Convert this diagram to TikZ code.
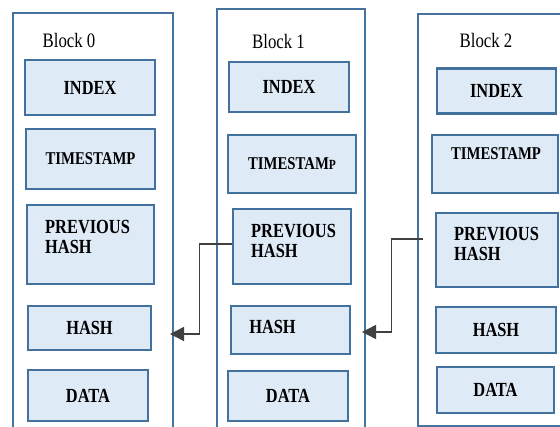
\documentclass[tikz,border=0pt]{standalone}
\usepackage{fontspec}
\setmainfont{Liberation Serif}[FakeStretch=0.82]
\usetikzlibrary{arrows.meta}
\definecolor{frameblue}{RGB}{70,114,160}
\definecolor{fieldblue}{RGB}{65,113,156}
\definecolor{fieldfill}{RGB}{222,234,246}

\begin{document}
\begin{tikzpicture}[x=1pt, y=-1pt,
        blk/.style 2 args={draw=frameblue, line width=2.4pt, fill=white, minimum width=#1pt, minimum height=#2pt, inner sep=0},
        fld/.style 2 args={draw=fieldblue, line width=2.7pt, fill=fieldfill, minimum width=#1pt, minimum height=#2pt, inner sep=0,
            font=\bfseries\fontsize{20}{21}\selectfont},
        txt/.style={font=\bfseries\fontsize{20}{20}\selectfont, inner sep=0, align=left},
        title/.style={font=\fontsize{20.5}{20}\selectfont, inner sep=0},
        link/.style={draw=black!75, line width=1.4pt, -{Triangle[length=14pt, width=14pt]}}]
        \useasboundingbox (0, 0) rectangle (560, 427);
        \clip (0, 0) rectangle (560, 427);
        \node[blk={160}{437}] (blk0) at (93, 231.5) {};
        \node[blk={148}{441}] (blk1) at (291, 229.5) {};
        \node[blk={162}{412}] (blk2) at (499, 220) {};
        \node[title] (b0) at (69, 40) {Block 0};
        \node[title] (b1) at (278.5, 41) {Block 1};
        \node[title] (b2) at (486, 40) {Block 2};

        \node[fld={130}{55}] (idx0) at (90, 87.5) {INDEX};
        \node[fld={129}{60}, font=\bfseries\fontsize{18}{18}\selectfont] (ts0) at (90.5, 159) {TIMESTAMP};
        \node[fld={127}{79}] (ph0) at (90.5, 244.5) {};
        \node[txt, anchor=north west] (ph0t) at (45, 220) {PREVIOUS\\HASH};
        \node[fld={123}{44}] (hs0) at (89.5, 328) {HASH};
        \node[fld={120}{51}] (dt0) at (88, 395.5) {DATA};

        \node[fld={120}{50}] (idx1) at (289, 87) {INDEX};
        \node[fld={128}{58}, font=\bfseries\fontsize{18}{18}\selectfont] (ts1) at (292, 164) {TIMESTAM{\fontsize{14}{14}\selectfont P}};
        \node[fld={118}{75}] (ph1) at (292, 246.5) {};
        \node[txt, anchor=north west] (ph1t) at (251, 224) {PREVIOUS\\HASH};
        \node[fld={119}{48}] (hs1) at (290.5, 330) {};
        \node[txt] (hs1t) at (272.5, 327) {HASH};
        \node[fld={120}{50}] (dt1) at (288, 396) {DATA};

        \node[fld={119}{45}] (idx2) at (496.5, 91) {INDEX};
        \node[fld={126}{58}] (ts2) at (495, 164) {};
        \node[txt, font=\bfseries\fontsize{18}{18}\selectfont] (ts2t) at (496, 154) {TIMESTAMP};
        \node[fld={122}{74}] (ph2) at (497, 250) {};
        \node[txt, anchor=north west] (ph2t) at (454, 227) {PREVIOUS\\HASH};
        \node[fld={120}{46}] (hs2) at (496, 330) {HASH};
        \node[fld={117}{46}] (dt2) at (495.5, 390) {DATA};

        \coordinate (in0) at (170, 334);
        \coordinate (in1) at (362, 332);
        \draw[link] ([yshift=2.5pt]ph1.west) -- ++(-32, 0) |- (in0);
        \draw[link, shorten <=12pt] ([yshift=11pt]ph2.west) -- ++(-43, 0) |- (in1);
    \end{tikzpicture}
\end{document}
